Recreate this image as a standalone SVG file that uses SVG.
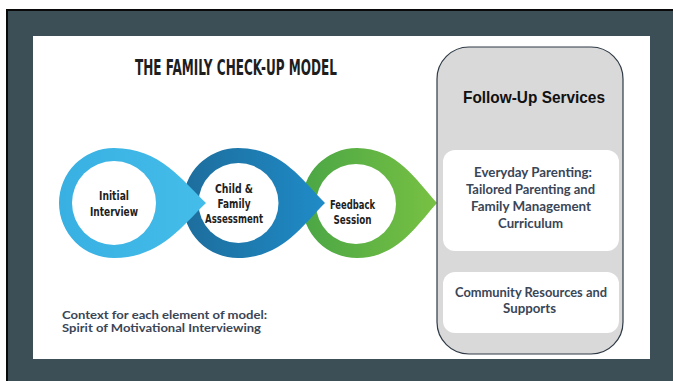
<svg xmlns="http://www.w3.org/2000/svg" width="673" height="381" viewBox="0 0 673 381">
<defs>
<style>
.cond{font-family:"Liberation Sans Narrow","DejaVu Sans Condensed","Liberation Sans",sans-serif;font-weight:bold;fill:#1e1e1e;text-anchor:middle;font-stretch:condensed}
.lbl{font-size:13px}
.body{font-family:Lato,"Liberation Sans",sans-serif;font-weight:bold;fill:#3a4657;font-size:12.5px;text-anchor:middle}
.ctx{font-size:11.5px;text-anchor:start}
.inner{fill:#ffffff}
.svc{fill:#ffffff}
</style>
<linearGradient id="gLight" x1="0" y1="0" x2="1" y2="0">
<stop offset="0" stop-color="#38b0e2"/><stop offset="1" stop-color="#44bdea"/>
</linearGradient>
<linearGradient id="gDark" x1="0" y1="0" x2="1" y2="0">
<stop offset="0" stop-color="#1d6d9c"/><stop offset="1" stop-color="#1f8bc7"/>
</linearGradient>
<linearGradient id="gGreen" x1="0" y1="0" x2="1" y2="0">
<stop offset="0" stop-color="#4aa645"/><stop offset="1" stop-color="#78c143"/>
</linearGradient>
</defs>
<rect x="0" y="0" width="673" height="381" fill="#ffffff"/>
<rect x="7" y="10" width="680" height="390" fill="#3c4f56" stroke="#0a0a0a" stroke-width="2"/>
<rect x="33" y="36" width="617" height="323" fill="#ffffff"/>
<text id="title" class="cond" x="236" y="75" font-size="22" textLength="202" lengthAdjust="spacingAndGlyphs">THE FAMILY CHECK-UP MODEL</text>
<g id="connectors"></g>
<g id="feedback">
<path d="M357,148 A55,55 0 0 0 357,258 C397,258 417,225 437,203 C417,181 397,148 357,148 Z" fill="url(#gGreen)"/>
<circle class="inner" cx="356" cy="204" r="40"/>
<text class="cond lbl" x="352.5" y="209" textLength="45" lengthAdjust="spacingAndGlyphs">Feedback</text>
<text class="cond lbl" x="352.5" y="224" textLength="38" lengthAdjust="spacingAndGlyphs">Session</text>
</g>
<g id="assessment">
<path d="M238,148 A55,55 0 0 0 238,258 C281.5,258 303,225 325,203 C303,181 281.5,148 238,148 Z" fill="url(#gDark)"/>
<circle class="inner" cx="238.5" cy="203" r="40"/>
<text class="cond lbl" x="234" y="193" textLength="38" lengthAdjust="spacingAndGlyphs">Child &amp;</text>
<text class="cond lbl" x="234" y="208" textLength="33" lengthAdjust="spacingAndGlyphs">Family</text>
<text class="cond lbl" x="234" y="223" textLength="58" lengthAdjust="spacingAndGlyphs">Assessment</text>
</g>
<g id="initial">
<path d="M114,148 A55,55 0 0 0 114,258 C160,258 183,225 206,203 C183,181 160,148 114,148 Z" fill="url(#gLight)"/>
<circle class="inner" cx="114" cy="203" r="42"/>
<text class="cond lbl" x="114" y="200" textLength="30" lengthAdjust="spacingAndGlyphs">Initial</text>
<text class="cond lbl" x="114" y="216" textLength="48" lengthAdjust="spacingAndGlyphs">Interview</text>
</g>
<g id="context">
<text class="body ctx" x="62" y="318.5" textLength="205" lengthAdjust="spacingAndGlyphs">Context for each element of model:</text>
<text class="body ctx" x="62" y="332" textLength="199" lengthAdjust="spacingAndGlyphs">Spirit of Motivational Interviewing</text>
</g>
<g id="followup">
<rect x="437" y="47" width="186" height="307" rx="32" ry="32" fill="#d9d9d9" stroke="#2f3a46" stroke-width="1.2"/>
<text x="534" y="103" font-family="'Liberation Sans',Arial,sans-serif" font-weight="bold" font-size="16.5" fill="#111" text-anchor="middle" textLength="142" lengthAdjust="spacingAndGlyphs">Follow-Up Services</text>
</g>
<g id="everyday">
<rect class="svc" x="443" y="150" width="176" height="101" rx="12" ry="12"/>
<text class="body" x="533" y="177" textLength="118" lengthAdjust="spacingAndGlyphs">Everyday Parenting:</text>
<text class="body" x="530.5" y="194" textLength="129" lengthAdjust="spacingAndGlyphs">Tailored Parenting and</text>
<text class="body" x="531" y="211" textLength="120" lengthAdjust="spacingAndGlyphs">Family Management</text>
<text class="body" x="530.5" y="227.5" textLength="65" lengthAdjust="spacingAndGlyphs">Curriculum</text>
</g>
<g id="community">
<rect class="svc" x="443" y="272" width="176" height="61" rx="12" ry="12"/>
<text class="body" x="531" y="297" textLength="152" lengthAdjust="spacingAndGlyphs">Community Resources and</text>
<text class="body" x="529.5" y="313" textLength="53" lengthAdjust="spacingAndGlyphs">Supports</text>
</g>
</svg>
